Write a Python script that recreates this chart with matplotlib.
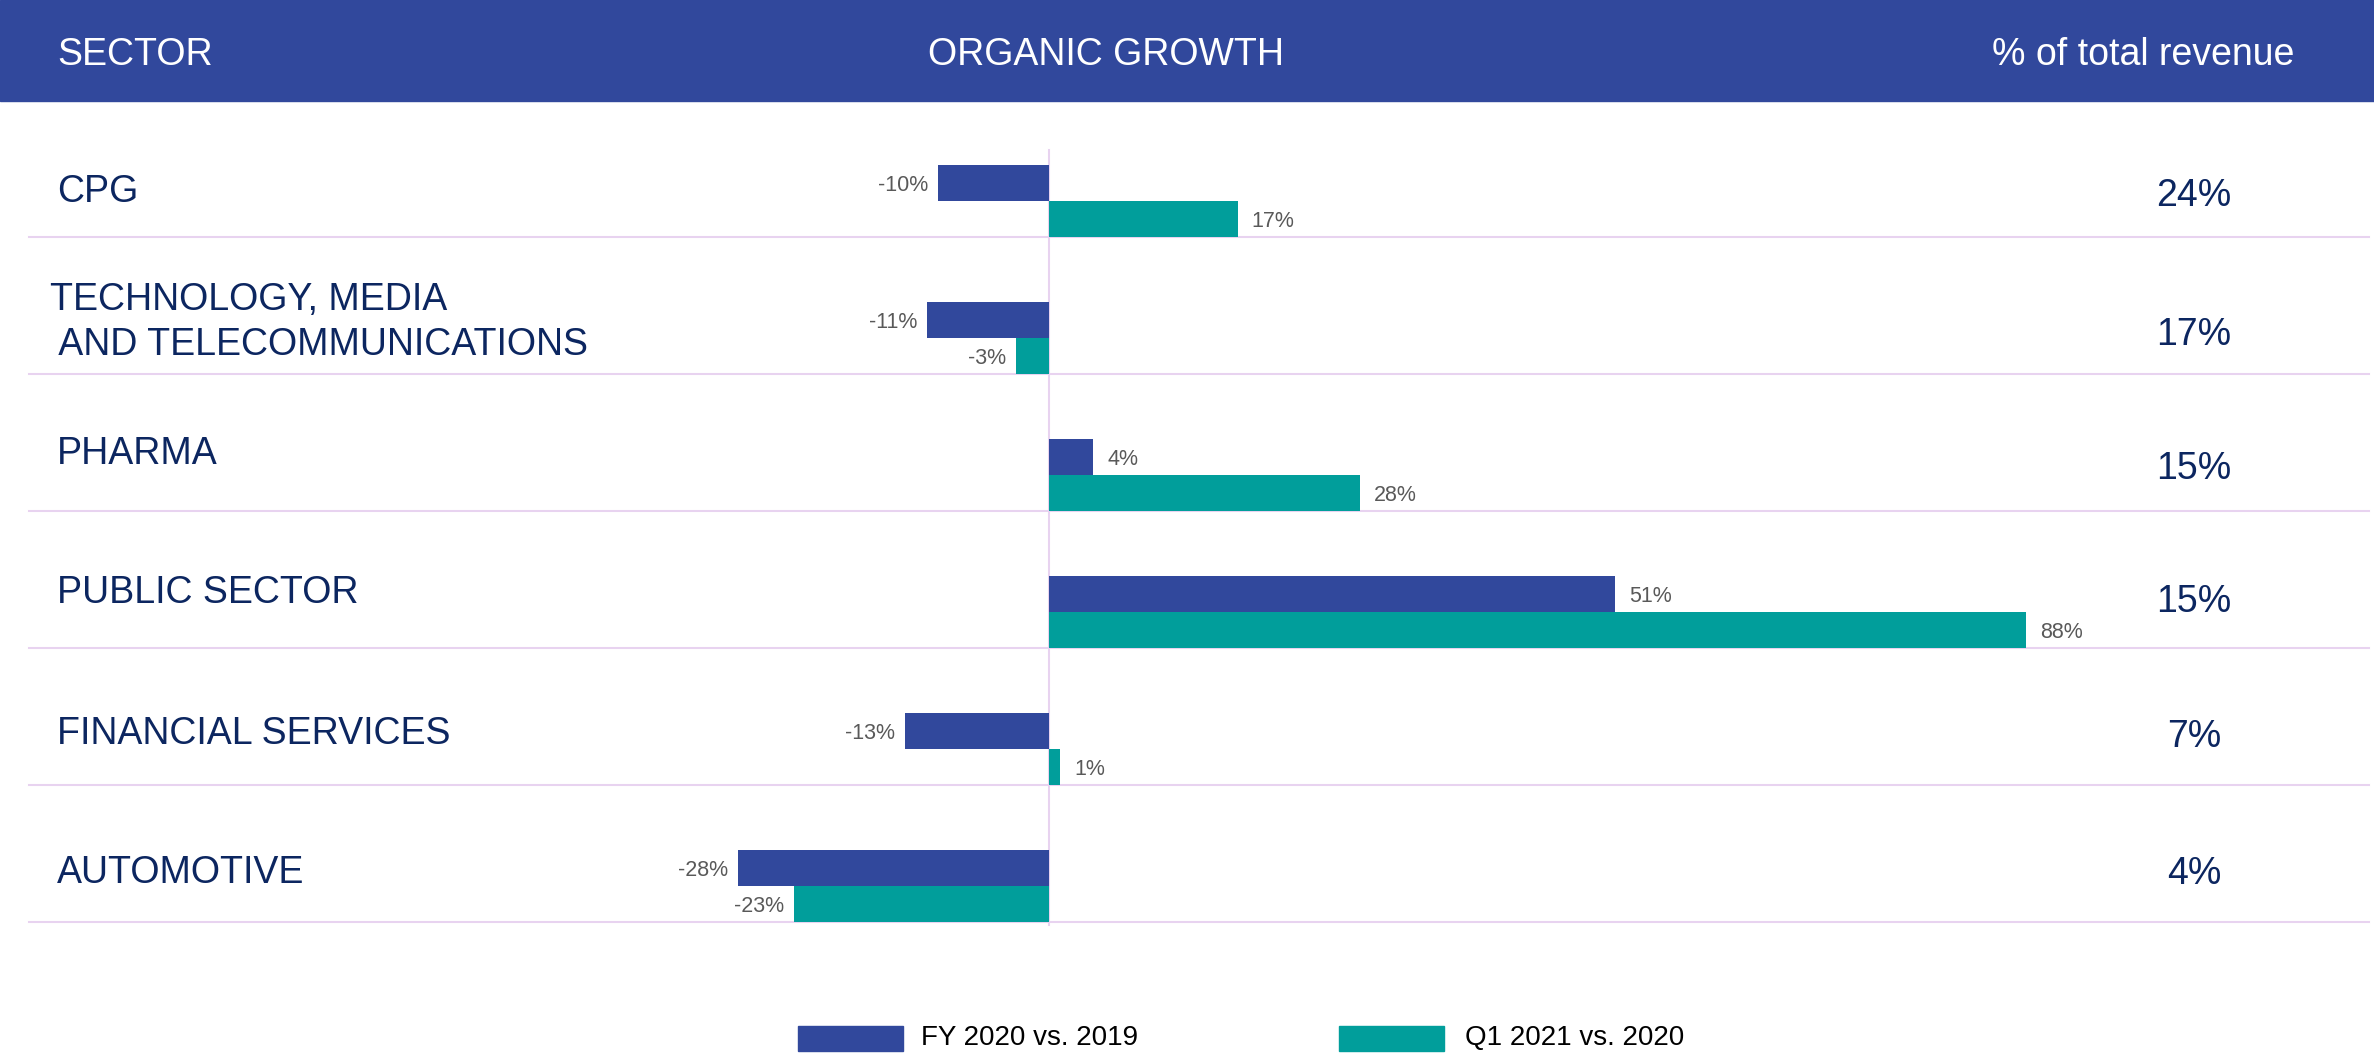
import numpy as np
import matplotlib as mpl
import matplotlib.pyplot as plt
from matplotlib.patches import Rectangle

mpl.rcParams['font.family'] = ['Liberation Sans', 'DejaVu Sans']

# ---------------------------------------------------------------
# dados
setores = ["CPG", "TECHNOLOGY, MEDIA\n AND TELECOMMUNICATIONS", "PHARMA",
           "PUBLIC SECTOR", "FINANCIAL SERVICES", "AUTOMOTIVE"]
fy2020 = [-10, -11, 4, 51, -13, -28]
q12021 = [17, -3, 28, 88, 1, -23]
pct_receita = ["24%", "17%", "15%", "15%", "7%", "4%"]
serie_nomes = ["FY 2020 vs. 2019", "Q1 2021 vs. 2020"]
cabecalho = ["SECTOR", "ORGANIC GROWTH", "% of total revenue"]

# ---------------------------------------------------------------
# layout (pixels acima da linha separadora de cada linha)
base_setor = [35, 19, 47, 45, 41, 39]
base_pct = [31, 29, 32, 36, 38, 38]

azul = "#31489C"
verde = "#019E9B"
navy = "#0C2660"
cinza = "#595959"
lilas = "#E8D3F0"

W, H = 2374, 1055
ROW = 137.0
fig = plt.figure(figsize=(W / 100, H / 100), dpi=100)
ax = fig.add_axes([0, 0, 1, 1])

px_pct = 11.1   # pixels por ponto percentual
x0 = 1049       # posicao do zero
ax.set_xlim(-x0 / px_pct, (W - x0) / px_pct)
ax.set_ylim((H - 168.5) / ROW, -168.5 / ROW)
ax.axis("off")

n = len(setores)
pos = np.arange(n)
h = 36 / ROW

ax.barh(pos + 0.5 - 1.5 * h, fy2020, height=h, color=azul, zorder=3)
ax.barh(pos + 0.5 - 0.5 * h, q12021, height=h, color=verde, zorder=3)

# linhas separadoras e linha do zero
for i in range(n):
    ax.axhline(i + 0.5, xmin=29 / W, xmax=2369 / W, color=lilas, lw=1.5, zorder=1)
ax.plot([0, 0], [-18.5 / ROW, (925 - 168.5) / ROW], color=lilas, lw=1.5, zorder=2)

# rotulos dos valores
for serie, off in [(fy2020, 1.5), (q12021, 0.5)]:
    for i, v in enumerate(serie):
        y = i + 0.5 - off * h + 0.02
        if v < 0:
            ax.annotate(f"{v}%", (v, y), xytext=(-7, 0), textcoords="offset points",
                        ha="right", va="center", fontsize=15.5, color=cinza)
        else:
            ax.annotate(f"{v}%", (v, y), xytext=(10, 0), textcoords="offset points",
                        ha="left", va="center", fontsize=15.5, color=cinza)

# nomes dos setores e % da receita
tr = ax.get_yaxis_transform()
for i, nome in enumerate(setores):
    linhas = nome.split("\n")
    xl = 57 / W if len(linhas) == 1 else 50 / W
    for k, linha in enumerate(reversed(linhas)):
        yb = i + 0.5 - (base_setor[i] + 45 * k) / ROW
        ax.text(xl, yb, linha, transform=tr, ha="left", va="baseline",
                fontsize=27, color=navy)
    ax.text(2194 / W, i + 0.5 - base_pct[i] / ROW, pct_receita[i], transform=tr,
            ha="center", va="baseline", fontsize=27, color=navy)

# cabecalho
fig.patches.append(Rectangle((0, 1 - 101 / H), 1, 101 / H, transform=fig.transFigure,
                             color=azul, zorder=0))
yb = 1 - 65 / H
fig.text(57 / W, yb, cabecalho[0], ha="left", va="baseline", fontsize=27, color="white")
fig.text(928 / W, yb, cabecalho[1], ha="left", va="baseline", fontsize=27, color="white")
fig.text(2294 / W, yb, cabecalho[2], ha="right", va="baseline", fontsize=27, color="white")

# legenda
for (xp, xt), cor, nome in zip([(798, 921), (1339, 1465)], [azul, verde], serie_nomes):
    fig.patches.append(Rectangle((xp / W, 4 / H), 105 / W, 25 / H,
                                 transform=fig.transFigure, color=cor))
    fig.text(xt / W, 17 / H, nome, ha="left", va="center", fontsize=20, color="black")

plt.savefig("out.png", dpi=100)
